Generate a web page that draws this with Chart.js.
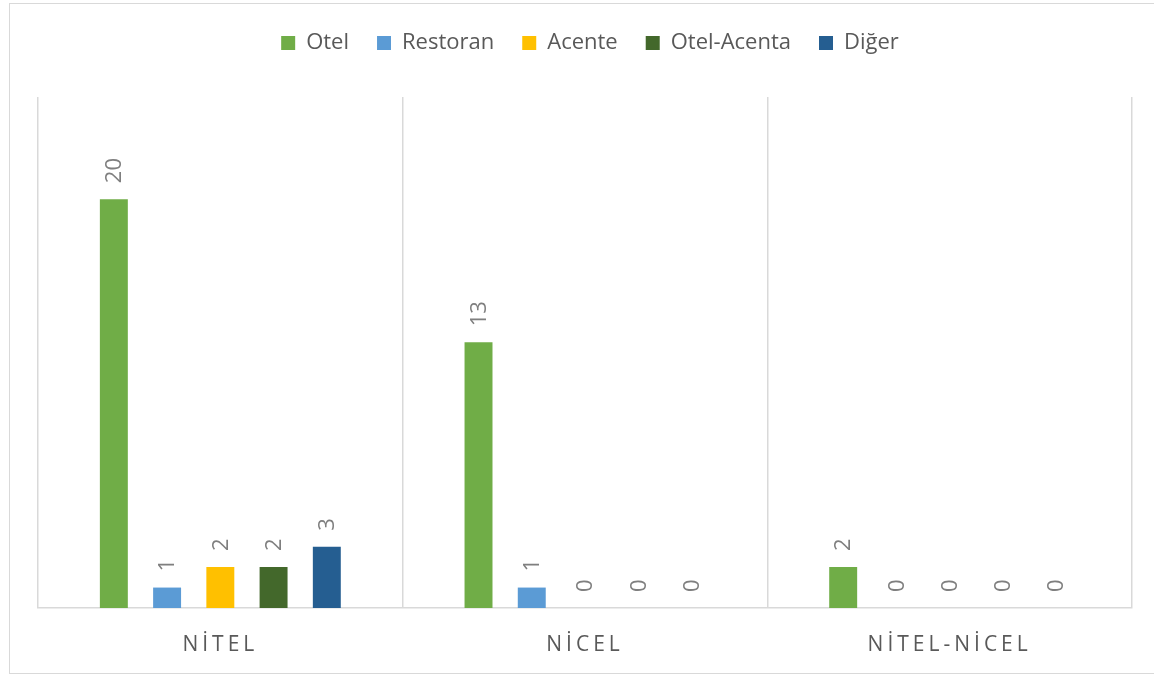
<!DOCTYPE html>
<html>
<head>
<meta charset="utf-8">
<script src="https://cdn.jsdelivr.net/npm/chart.js@4/dist/chart.umd.min.js"></script>
<style>
  html, body { margin: 0; padding: 0; background: #ffffff; }
  #wrap { position: relative; width: 1154px; height: 675px; overflow: hidden; }
  #frame { position: absolute; left: 9px; top: 3px; width: 1200px; height: 671px; border: 1px solid #d9d9d9; box-sizing: border-box; }
  #box { position: absolute; left: 0; top: 0; width: 1154px; height: 675px; }
</style>
</head>
<body>
<div id="wrap">
  <div id="frame"></div>
  <div id="box"><canvas id="c"></canvas></div>
</div>
<script>
const categories = ['NİTEL', 'NİCEL', 'NİTEL-NİCEL'];
const seriesNames = ['Otel', 'Restoran', 'Acente', 'Otel-Acenta', 'Diğer'];
const otel = [20, 13, 2];
const restoran = [1, 1, 0];
const acente = [2, 0, 0];
const otelAcenta = [2, 0, 0];
const diger = [3, 0, 0];
const seriesColors = ['#70ad47', '#5b9bd5', '#ffc000', '#43682b', '#255e91'];

const FONT = '"Open Sans", Lato, "Liberation Sans", sans-serif';

const seriesValues = [otel, restoran, acente, otelAcenta, diger];
const datasets = seriesNames.map((name, i) => ({
  label: name,
  data: seriesValues[i],
  backgroundColor: seriesColors[i],
  borderWidth: 0,
  categoryPercentage: 0.73,
  barPercentage: 0.525
}));

const valueLabels = {
  id: 'valueLabels',
  afterDatasetsDraw(chart) {
    const ctx = chart.ctx;
    ctx.save();
    ctx.font = '22px ' + FONT;
    ctx.fillStyle = '#7f7f7f';
    ctx.textAlign = 'left';
    ctx.textBaseline = 'middle';
    chart.data.datasets.forEach((ds, di) => {
      const meta = chart.getDatasetMeta(di);
      meta.data.forEach((el, i) => {
        const v = ds.data[i];
        ctx.save();
        ctx.translate(el.x + 1, el.y - 16);
        ctx.rotate(-Math.PI / 2);
        ctx.fillText(String(v), 0, 0);
        ctx.restore();
      });
    });
    ctx.restore();
  }
};

const spacing = {
  id: 'spacing',
  afterInit(chart) {
    const lg = chart.legend;
    if (lg && !lg._patched) {
      const fit = lg.fit;
      lg.fit = function () { fit.call(this); this.height += 33; };
      const draw = lg.draw;
      lg.draw = function () {
        const ctx = this.ctx;
        ctx.save();
        ctx.translate(5, 0);
        draw.call(this);
        ctx.restore();
      };
      lg._patched = true;
    }
  },
  beforeDraw(chart) {
    const sx = chart.scales.x;
    if (sx && !sx._patched) {
      const dl = sx.drawLabels;
      sx.drawLabels = function (area) {
        const ctx = this.ctx;
        ctx.save();
        ctx.letterSpacing = '4px';
        dl.call(this, area);
        ctx.restore();
      };
      sx._patched = true;
    }
  }
};

new Chart(document.getElementById('c'), {
  type: 'bar',
  data: { labels: categories, datasets: datasets },
  plugins: [valueLabels, spacing],
  options: {
    responsive: true,
    maintainAspectRatio: false,
    animation: false,
    events: [],
    layout: { padding: { top: 4, left: 38, right: 22, bottom: 0 } },
    plugins: {
      tooltip: { enabled: false },
      legend: {
        position: 'top',
        labels: {
          boxWidth: 14,
          boxHeight: 14,
          padding: 28,
          color: '#595959',
          font: { family: FONT, size: 22 }
        }
      }
    },
    scales: {
      x: {
        afterFit(scale) { scale.height = 67; },
        grid: { display: true, offset: true, drawTicks: false, color: '#d9d9d9', lineWidth: 1.5 },
        border: { display: true, color: '#d9d9d9', width: 1.5 },
        ticks: { color: '#595959', padding: 24, font: { family: FONT, size: 21 } }
      },
      y: {
        display: false,
        min: 0,
        max: 25
      }
    }
  }
});
</script>
</body>
</html>
